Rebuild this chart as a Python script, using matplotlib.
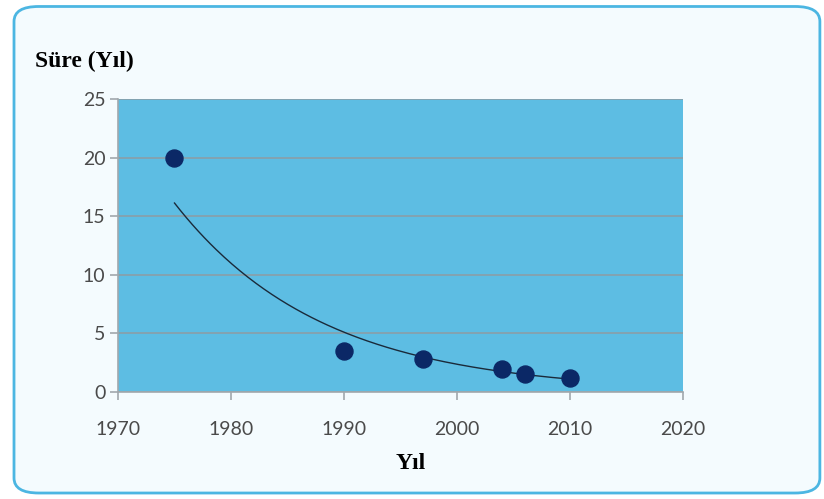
import numpy as np
import matplotlib
matplotlib.use("Agg")
import matplotlib.pyplot as plt
from matplotlib.patches import FancyBboxPatch

# data
years = [1975, 1990, 1997, 2004, 2006, 2010]
sure = [20, 3.5, 2.8, 2.0, 1.5, 1.2]
x_ticks = [1970, 1980, 1990, 2000, 2010, 2020]
y_ticks = [0, 5, 10, 15, 20, 25]

# exponential trend line (like Excel's)
b, a = np.polyfit(years, np.log(sure), 1)
xs = np.linspace(min(years), max(years), 200)
ys = np.exp(a + b * xs)

fig = plt.figure(figsize=(8.24, 4.99), dpi=100)
fig.patch.set_facecolor("white")

# rounded frame, behind the axes
frame = FancyBboxPatch((0.017, 0.012), 0.978, 0.975,
                       boxstyle="round,pad=0,rounding_size=0.03",
                       transform=fig.transFigure, facecolor="#f4fbfe",
                       edgecolor="#4cb6e2", linewidth=2.0, zorder=-5)
fig.patches.append(frame)

ax = fig.add_axes([0.1432, 0.2144, 0.6857, 0.5872])
ax.set_zorder(2)
ax.set_facecolor("#5dbde3")
ax.set_xlim(1970, 2020)
ax.set_ylim(0, 25)
ax.set_xticks(x_ticks)
ax.set_yticks(y_ticks)
ax.grid(axis="y", color="#8a9ea8", linewidth=1.2)
ax.set_axisbelow(True)

for s in ["top", "right"]:
    ax.spines[s].set_visible(False)
for s in ["left", "bottom"]:
    ax.spines[s].set_color("#a0a8ad")
    ax.spines[s].set_linewidth(1.2)
ax.tick_params(direction="out", length=6, color="#a0a8ad", width=1.2,
               labelsize=14, labelcolor="#4a4a4a")
ax.tick_params(axis="x", pad=15)
ax.tick_params(axis="y", pad=3)
for lab in ax.get_xticklabels() + ax.get_yticklabels():
    lab.set_family("Lato")

ax.plot(xs, ys, color="#1a2a3a", linewidth=1.0, zorder=2)
ax.scatter(years, sure, s=150, color="#0b2866", zorder=3)

fig.text(0.042, 0.876, "Süre (Yıl)", family="Liberation Serif",
         fontweight="bold", fontsize=17, va="center", ha="left")
fig.text(0.498, 0.072, "Yıl", family="Liberation Serif",
         fontweight="bold", fontsize=17, va="center", ha="center")

fig.savefig("out.png", dpi=100, facecolor=fig.get_facecolor())
